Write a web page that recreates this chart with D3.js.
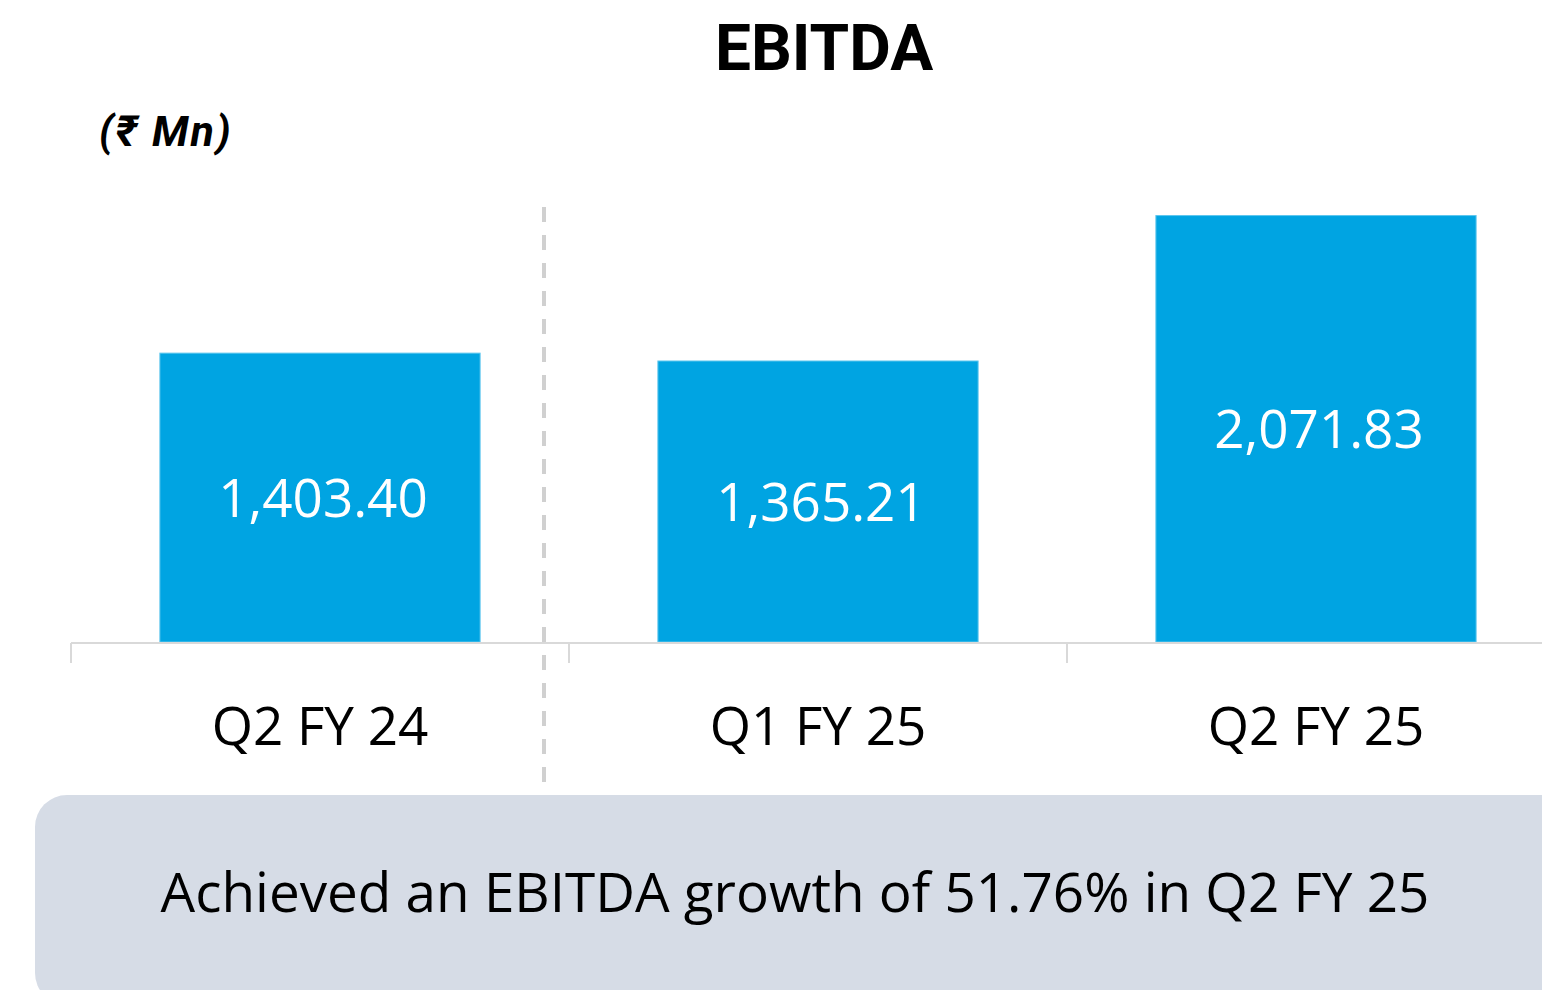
<!DOCTYPE html>
<html>
<head>
<meta charset="utf-8">
<script src="https://cdn.jsdelivr.net/npm/d3@7"></script>
<style>
  body { margin: 0; background: #fff; }
  svg { display: block; }
</style>
</head>
<body>
<div id="chart"></div>
<script>
// data
var categories = ["Q2 FY 24", "Q1 FY 25", "Q2 FY 25"];
var ebitda = [1403.40, 1365.21, 2071.83];
var unitLabel = "(₹ Mn)";
var title = "EBITDA";
var note = "Achieved an EBITDA growth of 51.76% in Q2 FY 25";

var width = 1542, height = 990;
var barColor = "#00a4e2";

var svg = d3.select("#chart").append("svg")
    .attr("width", width)
    .attr("height", height);

var x = d3.scaleBand()
    .domain(categories)
    .range([71, 71 + 498 * 3])
    .paddingInner(0.357)
    .paddingOuter(0.1785);

var y = d3.scaleLinear()
    .domain([0, 2400])
    .range([642, 148]);

// title + unit
svg.append("text")
    .attr("x", 824).attr("y", 70)
    .attr("text-anchor", "middle")
    .style("font-family", "Roboto, 'Noto Sans', sans-serif")
    .style("font-weight", "bold")
    .style("font-size", "64px")
    .attr("fill", "#000")
    .text(title);

svg.append("text")
    .attr("x", 99).attr("y", 146)
    .style("font-family", "Roboto, 'Noto Sans', 'DejaVu Sans', sans-serif")
    .style("font-weight", "bold")
    .style("font-style", "italic")
    .style("font-size", "43px")
    .style("letter-spacing", "2px")
    .attr("fill", "#000")
    .text(unitLabel);

// bars
var data = categories.map(function(c, i) { return { cat: c, val: ebitda[i] }; });

svg.selectAll("rect.bar").data(data).enter()
    .append("rect")
    .attr("class", "bar")
    .attr("x", function(d) { return x(d.cat); })
    .attr("y", function(d) { return y(d.val); })
    .attr("width", x.bandwidth())
    .attr("height", function(d) { return y(0) - y(d.val); })
    .style("fill", barColor)
    .style("stroke", "#5cc6ee")
    .style("stroke-width", 1);

svg.selectAll("text.val").data(data).enter()
    .append("text")
    .attr("class", "val")
    .attr("x", function(d) { return x(d.cat) + x.bandwidth() / 2 + 3; })
    .attr("y", function(d) { return (y(d.val) + y(0)) / 2; })
    .attr("dy", "0.36em")
    .attr("text-anchor", "middle")
    .style("font-family", "'Open Sans', sans-serif")
    .style("font-size", "53px")
    .attr("fill", "#fff")
    .text(function(d) { return d3.format(",.2f")(d.val); });

// axis line + ticks between categories
var half = (x.step() - x.bandwidth()) / 2;
svg.append("line")
    .attr("x1", x(categories[0]) - half).attr("x2", width)
    .attr("y1", y(0) + 1).attr("y2", y(0) + 1)
    .style("stroke", "#d9d9d9").style("stroke-width", 2);

svg.selectAll("line.tick").data(categories).enter()
    .append("line")
    .attr("class", "tick")
    .attr("x1", function(d) { return x(d) - half; })
    .attr("x2", function(d) { return x(d) - half; })
    .attr("y1", y(0) + 1).attr("y2", y(0) + 21)
    .style("stroke", "#d9d9d9").style("stroke-width", 2);

svg.selectAll("text.cat").data(categories).enter()
    .append("text")
    .attr("class", "cat")
    .attr("x", function(d) { return x(d) + x.bandwidth() / 2; })
    .attr("y", 745)
    .attr("text-anchor", "middle")
    .style("font-family", "'Open Sans', sans-serif")
    .style("font-size", "53px")
    .attr("fill", "#000")
    .text(function(d) { return d; });

// dashed divider
var divX = x(categories[1]) - half - 25;
svg.append("line")
    .attr("x1", divX).attr("x2", divX)
    .attr("y1", 207).attr("y2", 785)
    .style("stroke", "#d0d0d0")
    .style("stroke-width", 4)
    .style("stroke-dasharray", "15,13");

// note box
svg.append("rect")
    .attr("x", 35).attr("y", 795)
    .attr("width", 1540).attr("height", 210)
    .attr("rx", 32).attr("ry", 32)
    .style("fill", "#d6dce6");

svg.append("text")
    .attr("x", 795).attr("y", 912)
    .attr("text-anchor", "middle")
    .style("font-family", "'Open Sans', sans-serif")
    .style("font-size", "54.8px")
    .attr("fill", "#000")
    .text(note);
</script>
</body>
</html>
